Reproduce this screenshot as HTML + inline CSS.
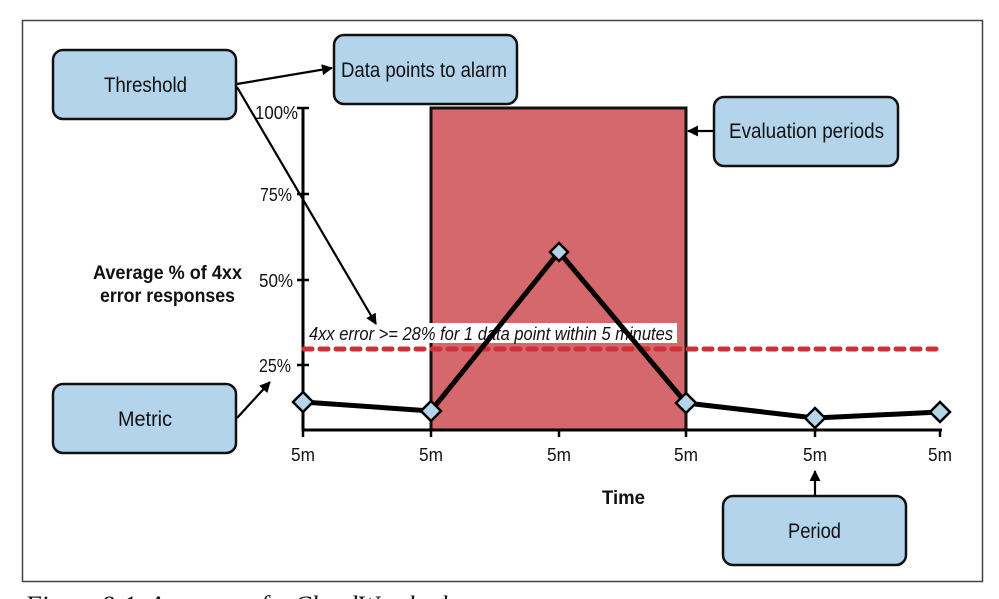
<!DOCTYPE html>
<html><head><meta charset="utf-8"><style>
html,body{margin:0;padding:0;background:#fff;width:999px;height:599px;overflow:hidden}
svg{display:block}
text{font-family:"Liberation Sans",sans-serif;fill:#111}
</style></head><body>
<svg width="999" height="599" viewBox="0 0 999 599" xmlns="http://www.w3.org/2000/svg">
<defs>
<marker id="ah" markerWidth="11" markerHeight="11" refX="10" refY="5.5" orient="auto" markerUnits="userSpaceOnUse">
<path d="M0,0 L11,5.5 L0,11 Z" fill="#000"/>
</marker>
</defs>
<rect x="22.5" y="20.5" width="960" height="561" fill="#fff" stroke="#444" stroke-width="1.5"/>

<!-- red eval region -->
<rect x="431" y="108" width="255" height="322" fill="#d4686c" stroke="#111" stroke-width="3"/>

<!-- axes -->
<line x1="303" y1="107" x2="303" y2="431" stroke="#000" stroke-width="3"/>
<line x1="302" y1="430" x2="942" y2="430" stroke="#000" stroke-width="3"/>
<g stroke="#000" stroke-width="2.5">
<line x1="297" y1="108" x2="309" y2="108"/>
<line x1="297" y1="194" x2="309" y2="194"/>
<line x1="297" y1="280" x2="309" y2="280"/>
<line x1="297" y1="365" x2="309" y2="365"/>
<line x1="303" y1="430" x2="303" y2="437"/>
<line x1="431" y1="430" x2="431" y2="437"/>
<line x1="559" y1="430" x2="559" y2="437"/>
<line x1="686" y1="430" x2="686" y2="437"/>
<line x1="815" y1="430" x2="815" y2="437"/>
<line x1="940" y1="430" x2="940" y2="437"/>
</g>
<g font-size="18" lengthAdjust="spacingAndGlyphs">
<text x="255" y="119" textLength="43" lengthAdjust="spacingAndGlyphs">100%</text>
<text x="260" y="201" textLength="32" lengthAdjust="spacingAndGlyphs">75%</text>
<text x="259" y="287" textLength="34" lengthAdjust="spacingAndGlyphs">50%</text>
<text x="259" y="372" textLength="32" lengthAdjust="spacingAndGlyphs">25%</text>
</g>
<g font-size="18">
<text x="291" y="461" textLength="24" lengthAdjust="spacingAndGlyphs">5m</text>
<text x="419" y="461" textLength="24" lengthAdjust="spacingAndGlyphs">5m</text>
<text x="547" y="461" textLength="24" lengthAdjust="spacingAndGlyphs">5m</text>
<text x="674" y="461" textLength="24" lengthAdjust="spacingAndGlyphs">5m</text>
<text x="803" y="461" textLength="24" lengthAdjust="spacingAndGlyphs">5m</text>
<text x="928" y="461" textLength="24" lengthAdjust="spacingAndGlyphs">5m</text>
</g>
<text x="602" y="504" font-size="19" font-weight="bold" textLength="43" lengthAdjust="spacingAndGlyphs">Time</text>
<text x="93" y="279" font-size="19" font-weight="bold" textLength="149" lengthAdjust="spacingAndGlyphs">Average % of 4xx</text>
<text x="100" y="302" font-size="19" font-weight="bold" textLength="135" lengthAdjust="spacingAndGlyphs">error responses</text>

<!-- threshold label -->
<rect x="306" y="323" width="371" height="20" fill="#fff"/>
<text x="309" y="340" font-size="18" font-style="italic" textLength="364" lengthAdjust="spacingAndGlyphs">4xx error &gt;= 28% for 1 data point within 5 minutes</text>
<line x1="304" y1="349" x2="941" y2="349" stroke="#d12f36" stroke-width="5" stroke-dasharray="8,8" stroke-linecap="round"/>

<!-- data line -->
<polyline points="303,402 431,411 559,252 686,403 815,418 940,412" fill="none" stroke="#000" stroke-width="5" stroke-linejoin="round"/>
<g fill="#b5d4ea" stroke="#000" stroke-width="2.5">
<path d="M303,392 L313,402 L303,412 L293,402 Z"/>
<path d="M431,401 L441,411 L431,421 L421,411 Z"/>
<path d="M559,243 L568,252 L559,261 L550,252 Z"/>
<path d="M686,393 L696,403 L686,413 L676,403 Z"/>
<path d="M815,408 L825,418 L815,428 L805,418 Z"/>
<path d="M940,402 L950,412 L940,422 L930,412 Z"/>
</g>

<!-- boxes -->
<g fill="#b3d4ea" stroke="#111" stroke-width="2.5">
<rect x="53" y="50" width="183" height="69" rx="10"/>
<rect x="334" y="35" width="183" height="69" rx="10"/>
<rect x="714" y="97" width="184" height="69" rx="10"/>
<rect x="53" y="384" width="183" height="69" rx="10"/>
<rect x="723" y="496" width="183" height="69" rx="10"/>
</g>
<g font-size="21">
<text x="104" y="92" textLength="83" lengthAdjust="spacingAndGlyphs">Threshold</text>
<text x="341" y="77" textLength="166" lengthAdjust="spacingAndGlyphs">Data points to alarm</text>
<text x="729" y="138" textLength="155" lengthAdjust="spacingAndGlyphs">Evaluation periods</text>
<text x="118" y="426" textLength="54" lengthAdjust="spacingAndGlyphs">Metric</text>
<text x="788" y="538" textLength="53" lengthAdjust="spacingAndGlyphs">Period</text>
</g>

<!-- arrows -->
<g stroke="#000" stroke-width="2.2" fill="none">
<line x1="237" y1="84" x2="332" y2="68" marker-end="url(#ah)"/>
<line x1="237" y1="87" x2="376" y2="324" marker-end="url(#ah)"/>
<line x1="237" y1="418" x2="270" y2="382" marker-end="url(#ah)"/>
<line x1="714" y1="131" x2="688" y2="131" marker-end="url(#ah)"/>
<line x1="815" y1="496" x2="815" y2="471" marker-end="url(#ah)"/>
</g>

<!-- caption (partially cropped) -->
<text x="25" y="614" font-style="italic" font-size="26" style="font-family:'Liberation Serif',serif">Figure 8-1. Anatomy of a CloudWatch alarm</text>
</svg>
</body></html>
